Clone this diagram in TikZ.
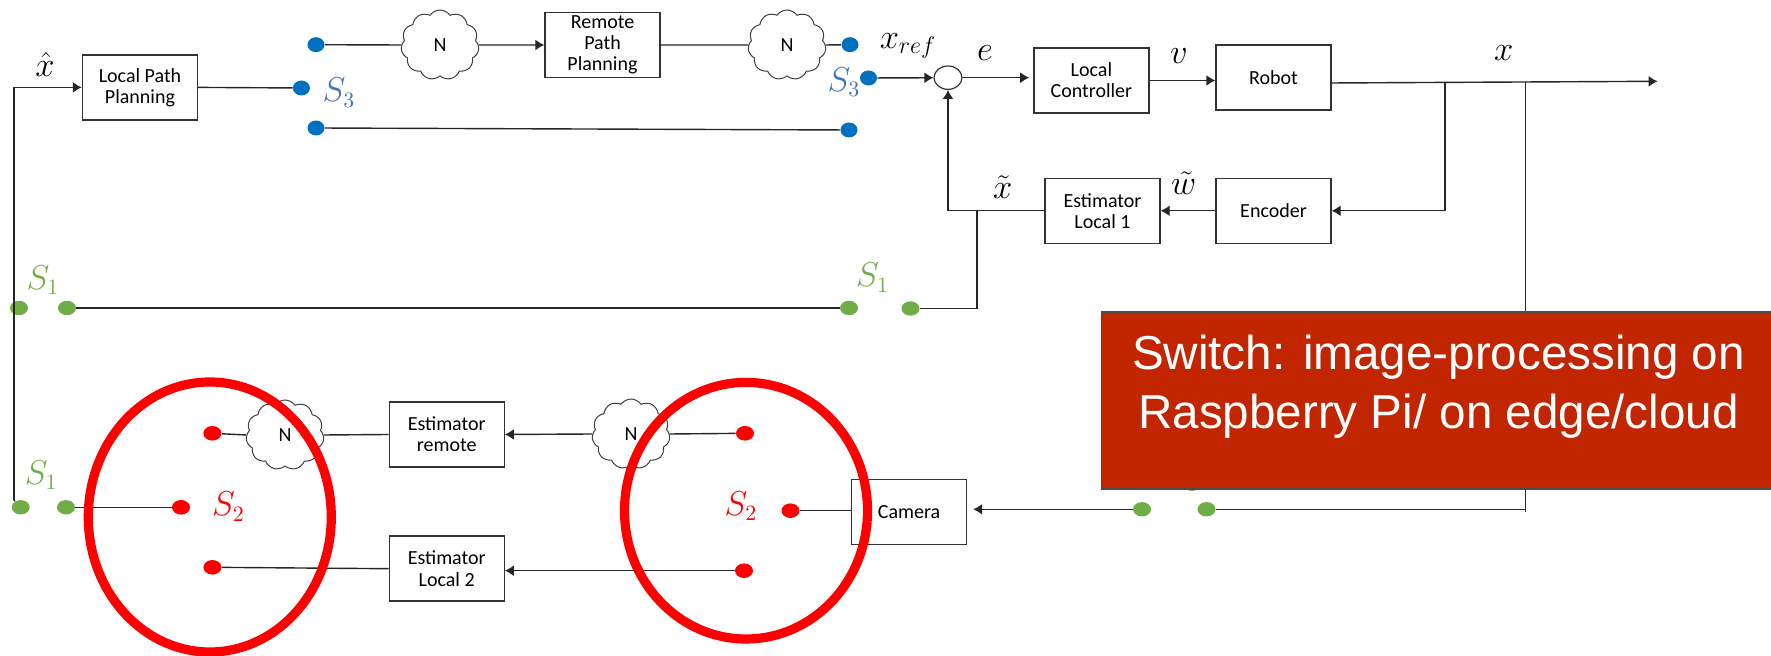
\documentclass[tikz,border=0pt]{standalone}
\usepackage{fontspec}
\setmainfont{Carlito}
\newfontfamily\switchfont{Liberation Sans}
\usetikzlibrary{arrows.meta,shapes.geometric,shapes.symbols}
\definecolor{dotblue}{HTML}{0070C0}
\definecolor{lblblue}{HTML}{4472C4}
\definecolor{dotgreen}{HTML}{70AD47}
\definecolor{swred}{HTML}{C22600}
\tikzset{
  x=0.5pt,y=-0.5pt,
  line/.style={draw=black!85,line width=0.7pt},
  arrowline/.style={line,-{Latex[length=4.5pt,width=5.5pt]}},
  bx/.style={draw=black!80,line width=0.7pt,fill=white,minimum width=57.5pt,minimum height=32.5pt,inner sep=0pt,align=center,font=\fontsize{10}{10.6}\selectfont},
  dotb/.style={ellipse,fill=dotblue,minimum width=8.5pt,minimum height=7.5pt,inner sep=0pt},
  dotg/.style={ellipse,fill=dotgreen,minimum width=9pt,minimum height=7.2pt,inner sep=0pt},
  dotr/.style={ellipse,fill=red,minimum width=9pt,minimum height=7.3pt,inner sep=0pt},
  netcloud/.style={cloud,cloud puffs=11,cloud puff arc=110,aspect=1.1,draw=black!75,line width=0.5pt,fill=white,minimum width=39pt,minimum height=35pt,inner sep=0pt,font=\fontsize{10}{10}\selectfont},
  ml/.style={inner sep=0pt,font=\fontsize{17}{17}\selectfont},
  sl/.style={inner sep=0pt,font=\fontsize{16}{16}\selectfont},
  ring/.style={draw=red,line width=4.6pt,ellipse,inner sep=0pt},
  switchbox/.style={draw=black!70,line width=0.9pt,fill=swred,text=white,inner sep=0pt,minimum width=337pt,minimum height=88.4pt,align=center,font=\switchfont\fontsize{23.8}{29.3}\selectfont},
}
\begin{document}
\begin{tikzpicture}
\clip (0,0) rectangle (1771,656);
% boxes
\node[bx] (lpp) at (140,87.4) {Local Path\\Planning};
\node[bx] (rpp) at (602.5,45) {Remote\\Path\\Planning};
\node[bx] (ctrl) at (1091.4,80.5) {Local\\Controller};
\node[bx] (robot) at (1273.5,77.7) {Robot};
\node[bx] (enc) at (1273.5,210.8) {Encoder};
\node[bx] (est1) at (1102.5,210.8) {Estimator\\Local 1};
\node[bx] (estr) at (446.7,434.5) {Estimator\\remote};
\node[bx] (est2) at (446.7,568.7) {Estimator\\Local 2};
\node[bx] (cam) at (909,512.2) {Camera};
\node[draw=black!80,line width=0.6pt,fill=white,ellipse,minimum width=14pt,minimum height=11.7pt,inner sep=0pt] (sum) at (948,77.7) {};
% clouds
\node[netcloud] (c1) at (440,45) {N};
\node[netcloud] (c2) at (787,45) {N};
\node[netcloud] (c3) at (285,435) {N};
\node[netcloud] (c4) at (631,434) {N};
% dots
\node[dotb] (b1) at (316,44.7) {};
\node[dotb] (b2) at (301.4,88) {};
\node[dotb] (b3) at (316,128) {};
\node[dotb] (b4) at (850,44.7) {};
\node[dotb] (b5) at (868.5,78) {};
\node[dotb] (b6) at (849,130) {};
\node[dotg] (g1) at (19,308) {};
\node[dotg] (g2) at (67,308) {};
\node[dotg] (g3) at (849,308) {};
\node[dotg] (g4) at (910.5,308.5) {};
\node[dotg] (g5) at (20.7,507.3) {};
\node[dotg] (g6) at (66,507.3) {};
\node[dotg] (g7) at (1142,509.3) {};
\node[dotg] (g8) at (1206.5,509.3) {};
\node[dotr] (r1) at (212.4,433.3) {};
\node[dotr] (r2) at (181,507.3) {};
\node[dotr] (r3) at (212.4,567.3) {};
\node[dotr] (r4) at (745,433.3) {};
\node[dotr] (r5) at (790.5,510.7) {};
\node[dotr] (r6) at (744,570.7) {};
% junctions and free ends
\coordinate (lbot) at (13.8,500);
\coordinate (rout) at (1330.5,83);
\coordinate (xend) at (1657.6,81.3);
\coordinate (jenc) at (1445,82.6);
\coordinate (jcam) at (1525.5,82.2);
\coordinate (jcamb) at (1525.5,512);
\coordinate (jest) at (977,210.8);
% connectors
\draw[arrowline] (lbot) |- (lpp.west);
\draw[line] (lpp.east) -- (b2);
\draw[line] (b1) -- (c1.west);
\draw[arrowline] (c1.east) -- (rpp.west);
\draw[line] (rpp.east) -- (c2.west);
\draw[line] (c2.east) -- (b4);
\draw[line] (b3) -- (b6);
\draw[arrowline] (b5) -- (sum);
\draw[arrowline,shorten >=2pt] (sum) -- (ctrl.west |- sum);
\draw[arrowline] (ctrl.east) -- (ctrl.east -| robot.west);
\draw[arrowline] (rout) -- (xend);
\draw[arrowline] (jenc) |- (enc.east);
\draw[arrowline] (enc.west) -- (est1.east);
\draw[arrowline] (est1.west) -| (sum.south);
\draw[line] (jest) |- (g4);
\draw[line] (g2) -- (g3);
\draw[line] (jcam) -- (jcamb);
\draw[line] (g8) -- (g8 -| jcam);
\draw[arrowline,shorten >=3pt] (g7) -- (cam.east |- g7);
\draw[line] (g6) -- (r2);
\draw[line] (r1) -- (c3.west);
\draw[line] (c3.east) -- (estr.west);
\draw[arrowline] (c4.west) -- (estr.east);
\draw[line] (r4) -- (c4.east);
\draw[line] (r3) -- (est2.west);
\draw[arrowline] (r6) -- (est2.east |- r6);
\draw[line] (r5) -- (cam.west |- r5);
\draw[line] (g5) -- (lbot);
% labels
\node[ml] (lxhat) at (45,65) {$\hat{x}$};
\node[ml] (lxref) at (908,46) {$x_{ref}$};
\node[ml] (le) at (985,53) {$e$};
\node[ml] (lv) at (1179,56) {$v$};
\node[ml] (lx) at (1503.7,53) {$x$};
\node[ml] (lxt) at (1002.7,186.7) {$\tilde{x}$};
\node[ml] (lwt) at (1183.6,182.7) {$\tilde{w}$};
\node[sl,text=lblblue] (s3a) at (339,92.7) {$S_3$};
\node[sl,text=lblblue] (s3b) at (844,82) {$S_3$};
\node[sl,text=dotgreen] (s1a) at (43,280) {$S_1$};
\node[sl,text=dotgreen] (s1b) at (872.6,277.7) {$S_1$};
\node[sl,text=dotgreen] (s1c) at (41.3,475) {$S_1$};
\node[sl,text=dotgreen] (s1d) at (1182,477) {$S_1$};
\node[sl,text=red] (s2a) at (228.5,506.7) {$S_2$};
\node[sl,text=red] (s2b) at (741,506) {$S_2$};
% overlays
\node[switchbox] (swbox) at (1438.5,400.3) {Switch: image-processing on\\Raspberry Pi/ on edge/cloud\\[-11pt]~};
\node[ring,minimum width=121.5pt,minimum height=135pt] (ringl) at (209.8,517) {};
\node[ring,minimum width=121.5pt,minimum height=128.3pt] (ringr) at (746,510.7) {};
\end{tikzpicture}
\end{document}
